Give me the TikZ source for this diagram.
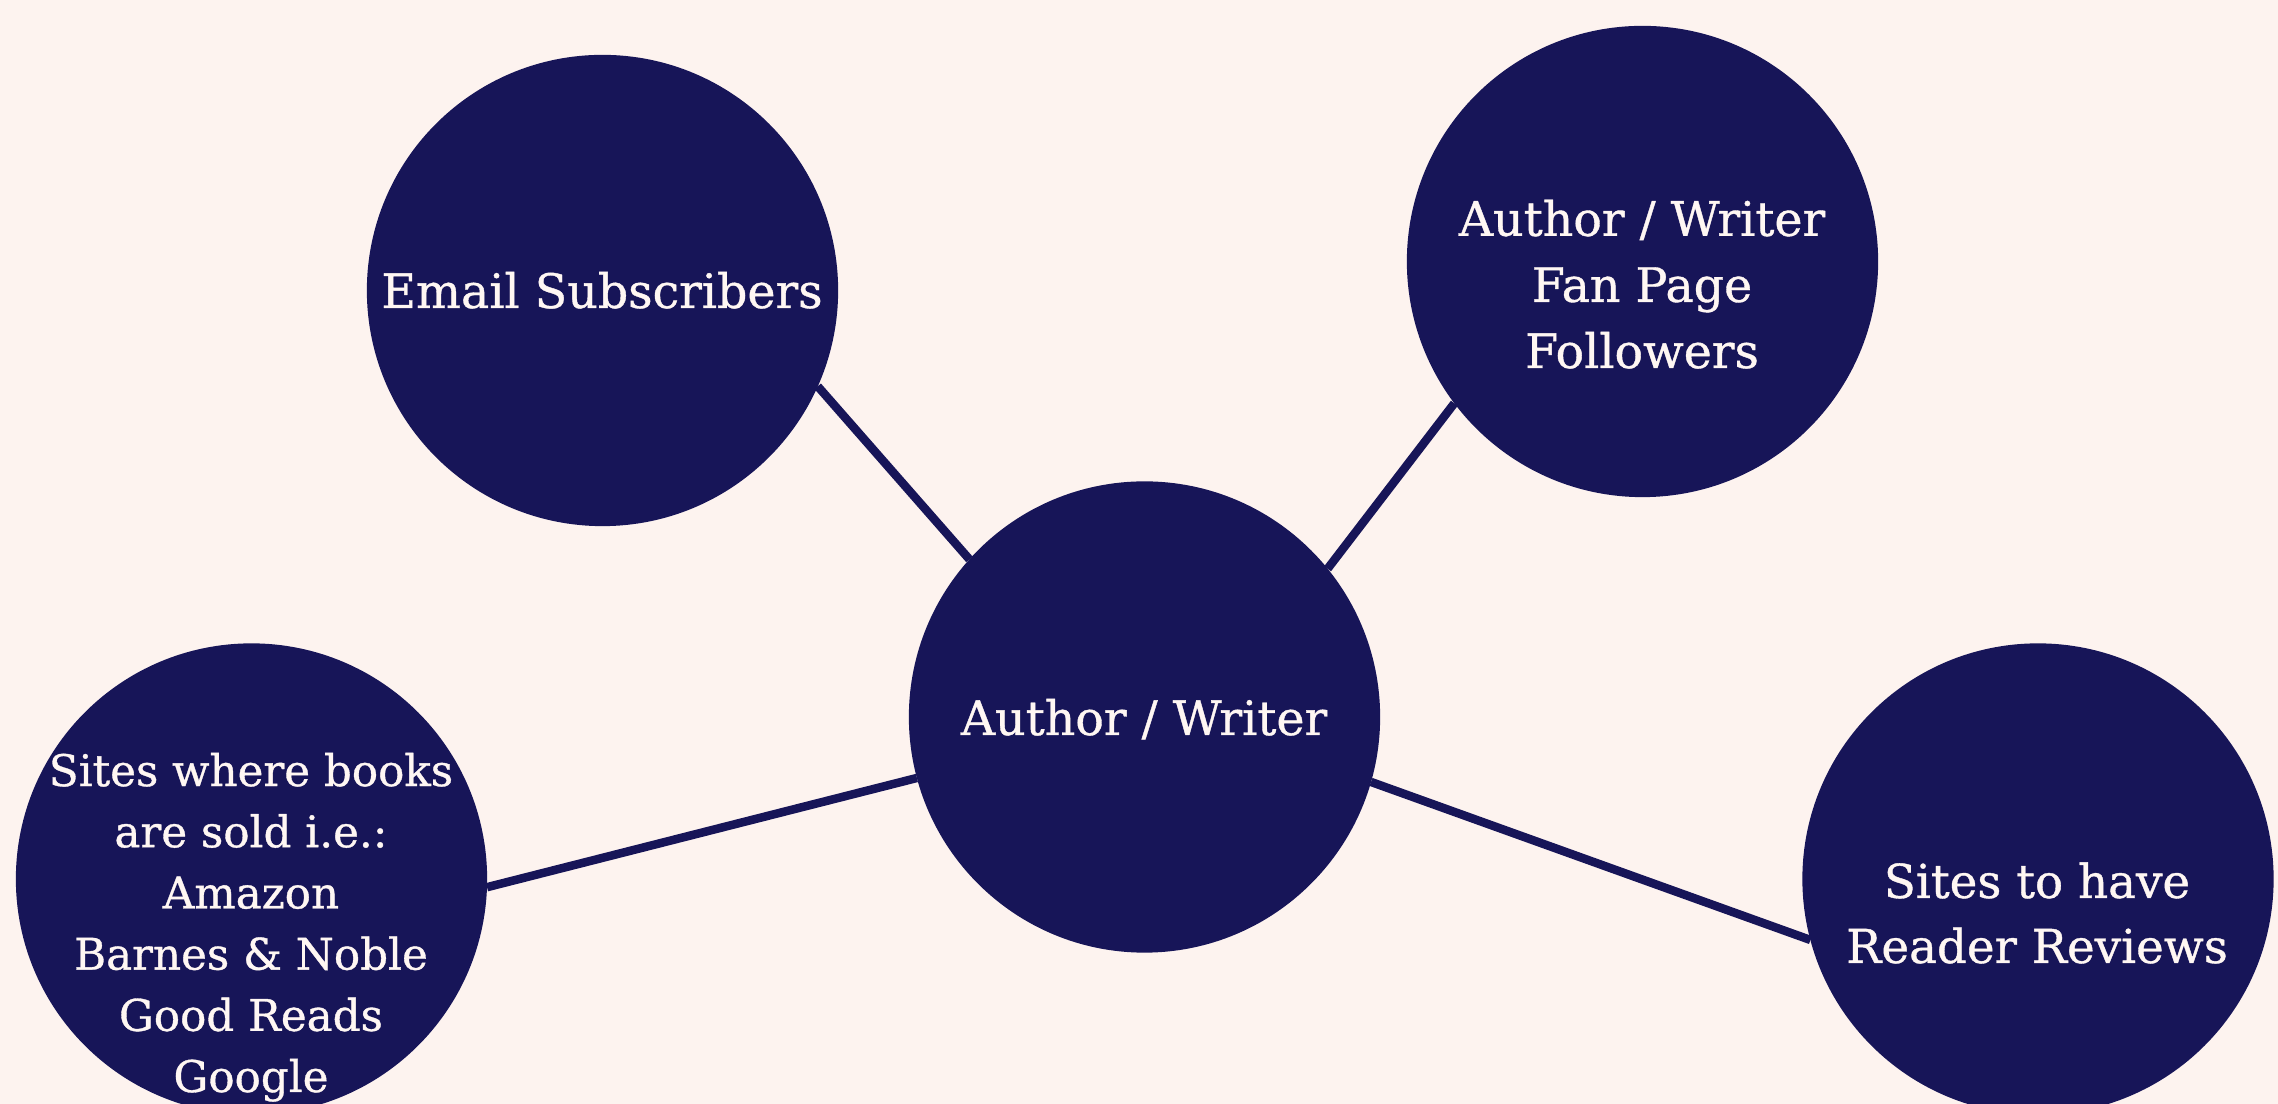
\documentclass[tikz,border=0pt]{standalone}
\usepackage{fontspec}
\setmainfont{DejaVu Serif}[FakeBold=0.8]
\definecolor{bg}{HTML}{FDF3EF}
\definecolor{navy}{HTML}{171558}
\definecolor{txt}{HTML}{FFF7F3}
\begin{document}
\begin{tikzpicture}[x=0.01cm,y=-0.01cm,
  bubble/.style={circle,fill=navy,minimum size=4.71cm,inner sep=0pt,outer sep=0pt},
  bubbletext/.style={text=txt,align=center,anchor=base,inner sep=0pt,font=\fontsize{13.5}{18.8}\selectfont},
  link/.style={draw=navy,line width=0.085cm}]
\fill[bg] (0,0) rectangle (2278,1104);
\useasboundingbox (0,0) rectangle (2278,1104);
\node[bubble] (email) at (602.5,290.5) {};
\node[bubble] (fan) at (1642.5,261.5) {};
\node[bubble] (center) at (1144.5,717) {};
\node[bubble] (books) at (251.5,879) {};
\node[bubble] (reviews) at (2038,879) {};
\draw[link] (email.-24.7) -- (center.138.1);
\draw[link] (fan.217.1) -- (center.39.6);
\draw[link] (books.-2.2) -- (center.195.5);
\draw[link] (reviews.195.9) -- (center.-16.6);
\node[bubbletext] (emailT) at (602,308) {Email Subscribers};
\node[bubbletext] (fanT) at (1642,368) {Author / Writer\\Fan Page\\Followers};
\node[bubbletext] (centerT) at (1144,735) {Author / Writer};
\node[bubbletext,font=\fontsize{12.4}{17.4}\selectfont] (booksT) at (251,1092) {Sites where books\\are sold i.e.:\\Amazon\\Barnes \& Noble\\Good Reads\\Google};
\node[bubbletext,font=\fontsize{13.3}{18.5}\selectfont] (reviewsT) at (2037,963) {Sites to have\\Reader Reviews};
\end{tikzpicture}
\end{document}
